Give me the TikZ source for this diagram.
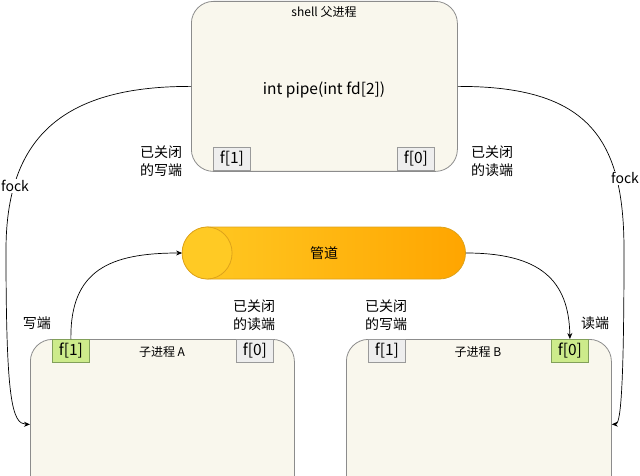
\documentclass[tikz,border=0pt]{standalone}
\usepackage{fontspec}
\setmainfont{Noto Sans CJK SC}
\usetikzlibrary{arrows.meta}

\definecolor{procfill}{HTML}{F9F7ED}
\definecolor{procline}{HTML}{8C8C8C}
\definecolor{fdgray}{HTML}{EEEEEE}
\definecolor{fdgrayline}{HTML}{9A9A9A}
\definecolor{fdgreen}{HTML}{CDEB8B}
\definecolor{fdgreenline}{HTML}{82A05A}
\definecolor{pipeleft}{HTML}{FFCA24}
\definecolor{piperight}{HTML}{FFA500}
\definecolor{pipeline}{HTML}{DDA21A}

\begin{document}
\begin{tikzpicture}[x = 1pt, y = -1pt, font = \fontsize{14}{18}\selectfont,
        proc/.style = {draw = procline, fill = procfill, line width = 0.8pt,
            rounded corners = 22pt, inner sep = 0pt, anchor = north west,
            minimum height = 170pt},
        fdbox/.style = {draw = fdgrayline, fill = fdgray, line width = 0.8pt,
            minimum width = 37pt, minimum height = 23pt, inner sep = 0pt,
            anchor = north west, font = \fontsize{15.5}{18}\selectfont},
        fdopen/.style = {fdbox, draw = fdgreenline, fill = fdgreen},
        title/.style = {font = \fontsize{12}{14}\selectfont},
        note/.style = {align = center, inner sep = 1pt},
        edge/.style = {-{Stealth[length = 6pt, width = 5pt]}, line width = 0.7pt}]
        \useasboundingbox (0, 0) rectangle (640, 476);
        \clip (0, 0) rectangle (640, 476);

        \node [proc, minimum width = 266pt] (parent) at (191, 1) {};
        \node [title] (parenttitle) at (324, 12) {shell 父进程};
        \node [font = \fontsize{15.5}{18}\selectfont] (pipecall) at (324, 90) {int pipe(int fd[2])};
        \node [fdbox] (pf1) at (213, 147) {f[1]};
        \node [fdbox] (pf0) at (397, 147) {f[0]};

        \node [proc, minimum width = 264pt] (childA) at (30, 339) {};
        \node [title] (childAtitle) at (162, 352) {子进程 A};
        \node [fdopen] (af1) at (52, 339) {f[1]};
        \node [fdbox] (af0) at (236, 339) {f[0]};

        \node [proc, minimum width = 265pt] (childB) at (346, 339) {};
        \node [title] (childBtitle) at (478, 352) {子进程 B};
        \node [fdbox] (bf1) at (368, 339) {f[1]};
        \node [fdopen] (bf0) at (551, 339) {f[0]};

        \node [draw = pipeline, line width = 0.8pt, left color = pipeleft,
                right color = piperight, rounded corners = 26pt,
                minimum width = 283pt, minimum height = 52pt]
            (pipe) at (324, 253) {};
        \draw [pipeline, fill = pipeleft, line width = 0.8pt]
            ([xshift = 25pt] pipe.west) ellipse [x radius = 25, y radius = 26];
        \node (pipetext) at (324, 253) {管道};

        \draw [edge]
            (parent.west) .. controls (60, 86) and (6, 140) .. (6, 250)
            .. controls (6, 400) and (12, 424) .. (childA.west);
        \draw [edge]
            (parent.east) .. controls (590, 86) and (624, 140) .. (624, 250)
            .. controls (624, 400) and (620, 424) .. (childB.east);
        \draw [edge]
            (af1.north) .. controls (70, 270) and (110, 253) .. (pipe.west);
        \draw [edge]
            (pipe.east) .. controls (540, 253) and (569, 280) .. (bf0.north);

        \node [fill = white, inner sep = 1pt] (fockL) at (15, 186) {fock};
        \node [fill = white, inner sep = 1pt] (fockR) at (625, 178) {fock};

        \node [note] (pclosedw) at (161, 161) {已关闭\\的写端};
        \node [note] (pclosedr) at (492, 161) {已关闭\\的读端};
        \node [note] (awrite) at (37, 323) {写端};
        \node [note] (aclosedr) at (254, 315) {已关闭\\的读端};
        \node [note] (bclosedw) at (386, 315) {已关闭\\的写端};
        \node [note] (bread) at (595, 323) {读端};
\end{tikzpicture}
\end{document}
